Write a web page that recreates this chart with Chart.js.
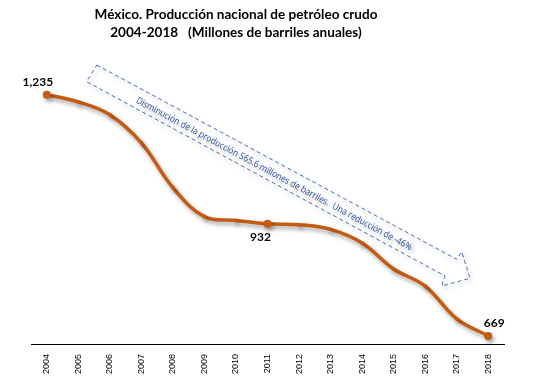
<!DOCTYPE html>
<html>
<head>
<meta charset="utf-8">
<script src="https://cdn.jsdelivr.net/npm/chart.js@4/dist/chart.umd.min.js"></script>
<style>
  html, body { margin: 0; padding: 0; background: #ffffff; }
  #wrap { width: 537px; height: 386px; }
</style>
</head>
<body>
<div id="wrap"><canvas id="c" width="537" height="386"></canvas></div>
<script>
// ---- data ----
const years = ['2004','2005','2006','2007','2008','2009','2010','2011','2012','2013','2014','2015','2016','2017','2018'];
const production = [1235, 1218, 1188, 1122, 1017, 949, 940, 932, 930, 919, 887, 826, 786, 709, 669];
const labeledPoints = [0, 7, 14];
const titleLines = ['México. Producción nacional de petróleo crudo', '2004-2018   (Millones de barriles anuales)'];
const arrowText = 'Disminución de la producción 565.6 millones de barriles.  Una reducción de -46%';

const lineColor = '#C55A11';

const fmt = v => v.toLocaleString('en-US');

const titlePlugin = {
  id: 'titleText',
  afterDraw(chart) {
    const ctx = chart.ctx;
    ctx.save();
    ctx.fillStyle = '#000';
    ctx.textAlign = 'center';
    ctx.textBaseline = 'middle';
    const targetW = 283;
    ctx.font = 'bold 13px Lato';
    const w = ctx.measureText(titleLines[0]).width;
    const size = 13 * targetW / w;
    ctx.font = 'bold ' + size.toFixed(2) + 'px Lato';
    ctx.fillText(titleLines[0], 236, 15);
    ctx.fillText(titleLines[1], 236, 33);
    ctx.restore();
  }
};

const arrowPlugin = {
  id: 'arrow',
  beforeDatasetsDraw(chart) {
    const ctx = chart.ctx;
    ctx.save();
    const pts = [[96.7,65],[456.7,259.3],[461.7,251.7],[470,278.3],[441.7,286],[445,276],[86.7,81.7]];
    ctx.beginPath();
    ctx.moveTo(pts[0][0], pts[0][1]);
    for (let i = 1; i < pts.length; i++) ctx.lineTo(pts[i][0], pts[i][1]);
    ctx.closePath();
    ctx.setLineDash([4, 3]);
    ctx.lineWidth = 1;
    ctx.strokeStyle = '#4A6DB3';
    ctx.stroke();
    ctx.setLineDash([]);
    // text
    const ang = Math.atan2(194.3, 360);
    ctx.translate(274, 174);
    ctx.rotate(ang);
    ctx.font = '9.5px "Open Sans"';
    const tw = ctx.measureText(arrowText).width;
    ctx.scale(312 / tw, 1);
    ctx.fillStyle = '#2D509B';
    ctx.textAlign = 'center';
    ctx.textBaseline = 'middle';
    ctx.fillText(arrowText, 0, 0);
    ctx.restore();
  }
};

const shadowPlugin = {
  id: 'lineShadow',
  beforeDatasetsDraw(chart) {
    const ctx = chart.ctx;
    ctx.save();
    ctx.shadowColor = 'rgba(0,0,0,0.35)';
    ctx.shadowBlur = 4;
    ctx.shadowOffsetX = 2;
    ctx.shadowOffsetY = 3;
  },
  afterDatasetsDraw(chart) {
    chart.ctx.restore();
  }
};

const valueLabelPlugin = {
  id: 'valueLabels',
  afterDatasetsDraw(chart) {
    const ctx = chart.ctx;
    const meta = chart.getDatasetMeta(0);
    const offsets = {0: [-9, -13], 7: [-7, 13], 14: [6, -13]};
    ctx.save();
    ctx.font = 'bold 12px Lato';
    ctx.fillStyle = '#000';
    ctx.textAlign = 'center';
    ctx.textBaseline = 'middle';
    labeledPoints.forEach(i => {
      const el = meta.data[i];
      const o = offsets[i];
      ctx.fillText(fmt(production[i]), el.x + o[0], el.y + o[1]);
    });
    ctx.restore();
  }
};

new Chart(document.getElementById('c'), {
  type: 'line',
  data: {
    labels: years,
    datasets: [{
      data: production,
      borderColor: lineColor,
      backgroundColor: lineColor,
      borderWidth: 3.5,
      tension: 0.38,
      pointRadius: ctx => labeledPoints.includes(ctx.dataIndex) ? 4 : 2,
      pointBackgroundColor: lineColor,
      pointBorderColor: lineColor,
      pointBorderWidth: 0,
      fill: false
    }]
  },
  options: {
    responsive: false,
    animation: false,
    devicePixelRatio: 1,
    layout: { padding: { left: 31, right: 33, top: 67, bottom: 12 } },
    plugins: { legend: { display: false }, tooltip: { enabled: false }, title: { display: false } },
    scales: {
      x: {
        offset: true,
        afterFit: scale => { scale.height = 30; },
        grid: { display: false, drawTicks: false },
        border: { display: true, color: '#000', width: 1 },
        ticks: {
          autoSkip: false,
          minRotation: 90,
          maxRotation: 90,
          padding: 10,
          color: '#000',
          font: { family: 'Liberation Sans', size: 9 }
        }
      },
      y: {
        display: false,
        min: 650,
        max: 1300
      }
    }
  },
  plugins: [shadowPlugin, arrowPlugin, valueLabelPlugin, titlePlugin]
});
</script>
</body>
</html>
